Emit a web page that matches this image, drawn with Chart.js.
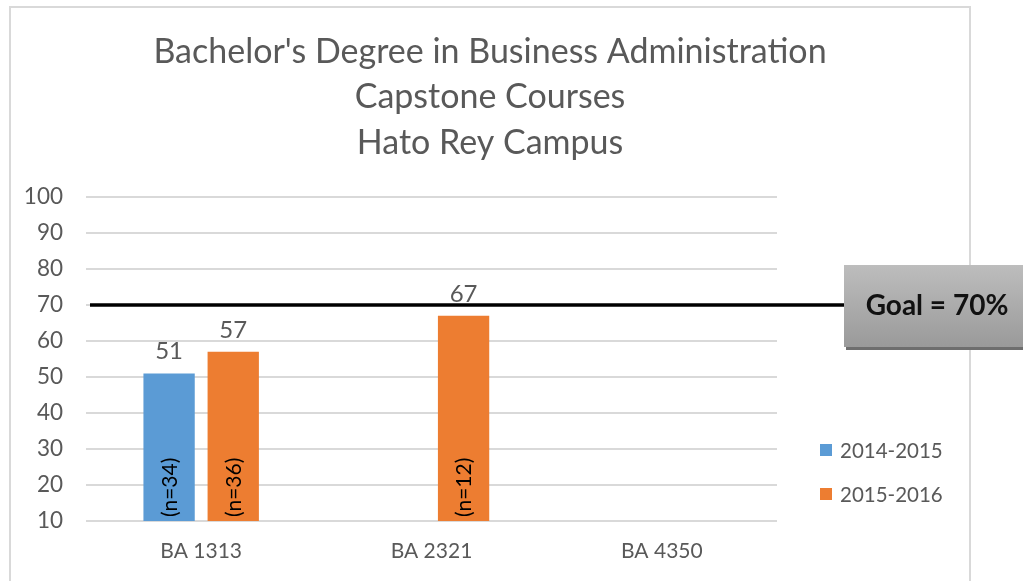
<!DOCTYPE html>
<html>
<head>
<meta charset="utf-8">
<script src="https://cdn.jsdelivr.net/npm/chart.js@4.4.0/dist/chart.umd.min.js"></script>
<style>
  html, body { margin: 0; padding: 0; background: #fff; }
  #wrap { position: relative; width: 1023px; height: 581px; }
</style>
</head>
<body>
<div id="wrap"><canvas id="chart" width="1023" height="581"></canvas></div>
<script>
const titleLines = ["Bachelor's Degree in Business Administration", "Capstone Courses", "Hato Rey Campus"];
const courses = ["BA 1313", "BA 2321", "BA 4350"];
const seriesLabels = ["2014-2015", "2015-2016"];
const values2014 = [51, null, null];
const values2015 = [57, 67, null];
const counts2014 = ["(n=34)", null, null];
const counts2015 = ["(n=36)", "(n=12)", null];
const goalValue = 70;
const goalText = "Goal = 70%";

const FONT = "Lato, 'Open Sans', sans-serif";
const GREY = '#595959';

const decor = {
  id: 'decor',
  beforeDraw(chart) {
    const ctx = chart.ctx;
    ctx.save();
    // outer frame
    ctx.strokeStyle = '#d9d9d9';
    ctx.lineWidth = 2;
    ctx.beginPath();
    ctx.moveTo(10, 590);
    ctx.lineTo(10, 7);
    ctx.lineTo(970, 7);
    ctx.lineTo(970, 590);
    ctx.stroke();
    // title
    ctx.fillStyle = GREY;
    ctx.font = `34px ${FONT}`;
    ctx.textAlign = 'center';
    ctx.textBaseline = 'middle';
    titleLines.forEach((t, i) => ctx.fillText(t, 490, 52 + i * 45.5));
    ctx.restore();
  },
  afterDatasetsDraw(chart) {
    const ctx = chart.ctx;
    const y = chart.scales.y;
    const area = chart.chartArea;
    ctx.save();

    // value labels + n labels
    const counts = [counts2014, counts2015];
    chart.data.datasets.forEach((ds, di) => {
      const meta = chart.getDatasetMeta(di);
      meta.data.forEach((bar, i) => {
        if (ds.data[i] == null) return;
        ctx.fillStyle = GREY;
        ctx.font = `24px ${FONT}`;
        ctx.textAlign = 'center';
        ctx.textBaseline = 'middle';
        ctx.fillText(String(ds.data[i]), bar.x, bar.y - 22);
        if (counts[di][i]) {
          ctx.save();
          ctx.translate(bar.x + 1, area.bottom - 4);
          ctx.rotate(-Math.PI / 2);
          ctx.fillStyle = '#000';
          ctx.font = `21px ${FONT}`;
          ctx.textAlign = 'left';
          ctx.textBaseline = 'middle';
          ctx.fillText(counts[di][i], 0, 0);
          ctx.restore();
        }
      });
    });

    // goal line
    const gy = y.getPixelForValue(goalValue);
    ctx.strokeStyle = '#000';
    ctx.lineWidth = 3.5;
    ctx.beginPath();
    ctx.moveTo(90, gy);
    ctx.lineTo(850, gy);
    ctx.stroke();

    // goal box with shadow
    const bx = 844, bw = 185, bt = gy - 40, bh = 82;
    ctx.fillStyle = '#6e6e6e';
    ctx.fillRect(bx + 2, bt + 3, bw, bh);
    const grad = ctx.createLinearGradient(0, bt, 0, bt + bh);
    grad.addColorStop(0, '#bdbdbd');
    grad.addColorStop(1, '#9a9a9a');
    ctx.fillStyle = grad;
    ctx.fillRect(bx, bt, bw, bh);
    ctx.fillStyle = '#111';
    ctx.font = `bold 28px ${FONT}`;
    ctx.textAlign = 'center';
    ctx.textBaseline = 'middle';
    ctx.fillText(goalText, 937, gy + 1);

    // legend
    chart.data.datasets.forEach((ds, di) => {
      const ly = 450 + di * 44;
      ctx.fillStyle = ds.backgroundColor;
      ctx.fillRect(820, ly - 6, 12, 12);
      ctx.fillStyle = GREY;
      ctx.font = `20.5px ${FONT}`;
      ctx.textAlign = 'left';
      ctx.textBaseline = 'middle';
      ctx.fillText(ds.label, 840, ly + 1);
    });
    ctx.restore();
  }
};

new Chart(document.getElementById('chart'), {
  type: 'bar',
  data: {
    labels: courses,
    datasets: [
      { label: seriesLabels[0], data: values2014, backgroundColor: '#5b9bd5' },
      { label: seriesLabels[1], data: values2015, backgroundColor: '#ed7d31' }
    ]
  },
  options: {
    responsive: false,
    animation: false,
    devicePixelRatio: 1,
    layout: { padding: { top: 197, right: 246, bottom: 0, left: 0 } },
    categoryPercentage: 0.557,
    barPercentage: 0.8,
    plugins: {
      legend: { display: false },
      title: { display: false },
      tooltip: { enabled: false }
    },
    scales: {
      x: {
        afterFit(scale) { scale.height = 60; },
        grid: { display: false, drawTicks: false },
        border: { display: false },
        ticks: { color: GREY, font: { family: FONT, size: 21 }, padding: 18 }
      },
      y: {
        min: 10,
        max: 100,
        afterFit(scale) { scale.width = 86; },
        grid: { color: '#d9d9d9', lineWidth: 2, drawTicks: false },
        border: { display: false },
        ticks: { stepSize: 10, color: GREY, font: { family: FONT, size: 22.5 }, padding: 23 }
      }
    }
  },
  plugins: [decor]
});
</script>
</body>
</html>
